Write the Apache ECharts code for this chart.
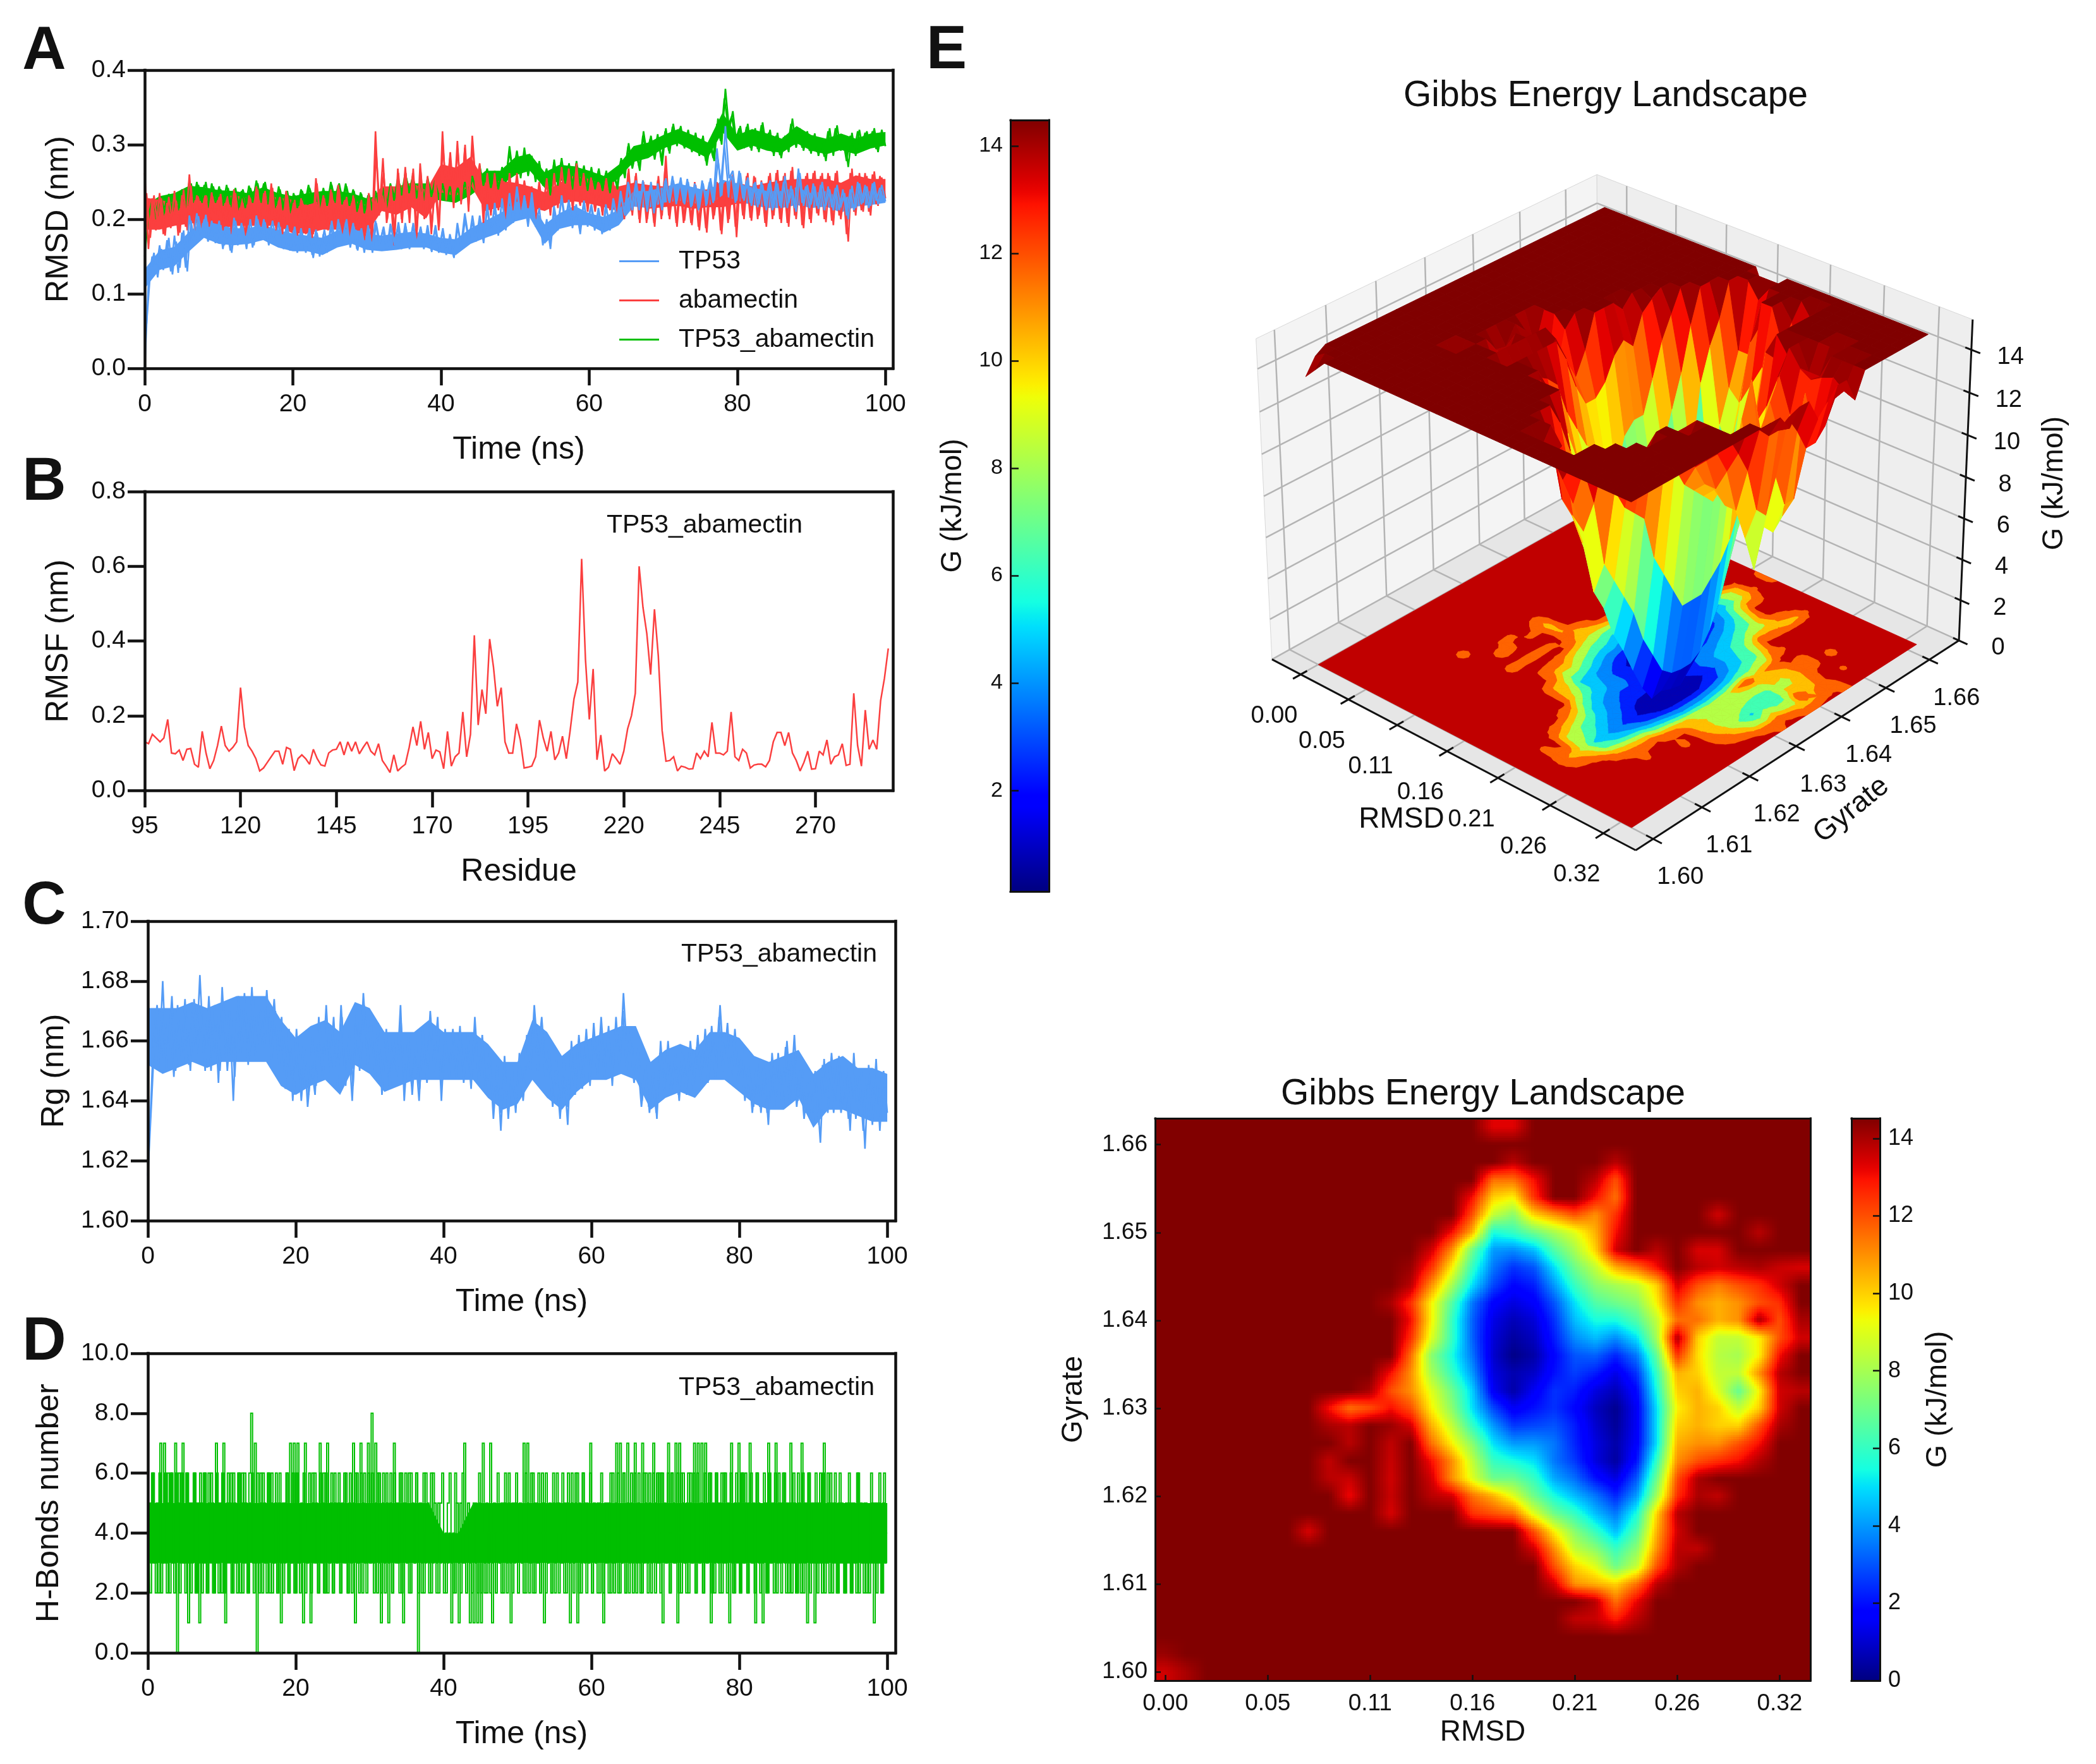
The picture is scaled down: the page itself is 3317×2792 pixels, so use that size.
<!DOCTYPE html>
<html><head><meta charset="utf-8">
<script src="https://cdn.jsdelivr.net/npm/echarts@6/dist/echarts.min.js"></script>
<style>html,body{margin:0;background:#fff}#c{width:3317px;height:2792px}</style></head>
<body><div id="c"></div>
<script>
// ---------- DATA ----------
const rmsdTP53 = [0,115,150,128,165,132,172,130,178,128,182,135,205,172,208,178,200,170,198,168,198,160,190,158,202,165,195,168,192,162,205,172,200,170,192,168,196,165,188,158,185,155,188,160,182,152,186,150,180,155,192,162,200,168,196,170,195,160,185,155,192,160,198,165,186,158,194,170,188,160,195,162,190,168,186,160,192,158,188,155,184,152,180,150,195,165,208,175,196,170,205,172,220,182,215,178,225,190,235,195,240,200,232,195,236,190,215,170,200,160,212,185,232,198,222,192,215,180,225,190,220,190,212,182,216,185,225,195,232,205,248,212,252,218,246,210,250,215,240,212,255,222,252,225,256,220,250,218,245,215,248,220,255,225,280,240,325,255,265,225,262,225,256,218,250,220,246,212,252,215,248,215,258,222,240,210,262,218,246,220,244,214,250,218,240,212,246,216,235,200,245,215,248,222,244,218,250,220,246,224];
const rmsdTP53B = [60,128,155,122,160,138,175,126,170,135,185,130,198,168,204,175,206,172,192,172,192,165,188,155,198,170,190,160,200,165,200,175,196,165,198,172,190,160,192,162,190,158,182,155,188,148,182,156,186,160,198,165,195,172,200,162,190,158,188,160,188,155,195,168,190,160,190,165,196,162,190,160,195,165,190,162,186,156,192,160,188,155,178,148,190,160,200,170,205,172,200,168,215,178,222,185,228,185,230,200,244,205,228,190,230,195,205,165,195,165,218,190,228,195,226,188,220,185,222,195,218,185,215,180,220,190,228,200,238,208,250,215,246,212,252,220,244,208,248,218,252,225,258,220,250,222,254,216,248,212,252,225,250,222,295,245,300,245,258,222,265,228,252,222,248,216,250,218,248,212,252,218,250,215,245,215,268,222,244,215,248,218,246,212,244,216,242,212,240,205,240,212,250,220,246,215,248,225,242,222];
const rmsdAbamectin = [262,160,228,185,235,180,222,188,238,178,232,190,260,195,232,188,228,200,236,195,230,185,225,190,240,192,215,178,232,200,244,195,235,188,248,200,225,180,238,195,222,178,228,185,215,175,255,205,232,190,240,195,246,180,225,175,232,190,222,172,228,170,318,205,282,195,235,165,268,200,270,205,262,170,275,210,258,180,246,185,318,225,282,215,305,220,296,210,312,245,275,195,258,205,262,215,250,200,262,212,258,208,248,215,240,200,246,212,255,205,262,215,270,222,262,212,275,218,258,210,252,210,248,205,255,212,246,198,238,205,268,205,262,195,250,200,240,190,258,205,285,200,246,190,252,198,240,192,246,185,238,182,252,205,248,180,250,200,260,176,258,200,262,198,256,205,248,190,262,205,266,195,262,190,270,200,258,188,262,195,265,205,262,196,258,192,265,200,240,170,268,205,262,210,258,205,264,218,256,228];
const rmsdAbamectinB = [235,175,232,190,228,178,230,195,225,182,240,185,245,185,228,195,232,190,226,198,234,190,222,180,235,195,222,182,228,195,240,190,238,195,242,185,230,190,232,188,226,182,225,180,220,180,248,198,228,185,236,190,240,185,230,180,228,185,226,178,235,180,290,210,262,200,245,180,262,195,262,195,268,185,265,200,252,190,255,190,300,230,290,225,295,225,300,220,300,235,268,205,262,210,258,212,255,208,258,215,262,212,252,218,244,205,250,215,250,210,258,220,265,225,268,218,268,220,262,215,256,215,250,210,252,215,250,205,242,200,262,210,258,200,252,195,244,195,252,200,268,205,250,195,248,195,244,195,250,190,242,188,248,200,250,185,248,195,256,190,255,205,258,202,258,200,252,195,258,200,262,200,258,195,265,205,260,192,258,200,262,208,258,200,262,198,262,205,246,180,262,210,258,212,262,210,260,220,258,232];
const rmsdComplex = [150,205,225,200,232,205,230,208,235,212,240,215,252,222,250,225,246,215,248,222,244,218,246,220,240,212,238,215,245,222,252,226,248,220,240,215,244,212,236,208,235,215,240,220,246,222,238,212,242,218,250,225,246,220,248,218,240,210,236,208,232,212,238,218,240,215,248,225,256,232,262,235,258,228,250,225,256,230,252,226,248,225,244,222,240,228,250,232,258,238,272,245,268,242,262,240,270,250,298,258,290,255,296,258,285,250,278,245,262,232,280,245,282,248,275,240,278,245,272,238,270,240,268,238,265,235,262,240,282,255,302,268,292,265,318,285,312,280,310,272,322,288,328,298,325,295,320,290,316,285,312,272,305,278,335,300,375,320,345,300,325,295,328,292,322,290,330,296,320,285,316,282,312,290,335,296,322,292,318,288,315,285,308,278,322,285,326,292,312,270,316,285,320,292,318,296,322,290,320,298];
const rmsdComplexB = [190,210,228,204,228,208,234,210,232,215,238,218,248,226,246,222,250,220,244,226,240,222,242,216,242,216,240,220,242,226,248,222,250,224,236,218,240,216,238,212,232,218,238,222,242,226,240,216,238,222,246,222,248,224,244,222,238,214,234,212,234,216,235,222,242,220,245,228,252,236,258,238,255,232,252,228,252,234,248,230,245,228,242,226,242,232,248,236,255,242,268,248,265,246,265,244,266,254,290,262,292,260,288,262,282,255,275,250,268,240,276,250,278,252,272,245,275,248,268,242,266,244,265,242,262,240,265,244,278,260,298,272,295,270,312,288,308,285,314,278,318,292,324,302,322,298,316,294,312,290,308,278,302,282,328,305,362,325,338,305,322,298,324,296,318,294,326,300,316,290,312,286,310,294,328,300,318,296,314,292,312,290,304,284,318,290,322,296,308,278,312,290,318,296,316,300,318,294,316,302];
// solid core of each noisy trace, one value every 2 ns
const tp53CoreHi = [130,155,160,180,195,190,185,185,190,182,178,175,172,182,185,178,175,178,180,178,172,170,185,195,205,220,222,190,205,215,205,200,210,235,235,240,245,240,235,250,245,240,235,235,240,232,235,225,230,235,235];
const tp53CoreLo = [110,135,140,160,178,170,168,170,175,165,160,160,155,165,170,162,160,162,165,165,158,155,170,178,185,200,205,170,190,195,195,185,195,220,218,225,228,225,220,235,228,222,218,218,222,218,220,212,220,222,225];
const abaCoreHi = [225,222,218,225,228,226,228,225,228,225,222,215,222,222,222,215,240,240,245,235,270,265,280,245,248,245,240,232,245,255,250,242,240,245,242,240,240,235,236,238,245,240,245,248,250,250,250,245,255,250,250];
const abaCoreLo = [190,190,195,198,200,190,195,195,195,195,185,185,190,190,190,185,215,210,220,205,240,235,250,215,220,215,220,215,225,228,225,220,215,225,218,220,222,218,220,220,225,225,228,230,232,232,232,228,238,235,235];
const cplxCoreHi = [215,228,232,242,240,236,235,232,240,232,228,232,235,235,232,225,230,235,245,245,240,235,245,262,262,280,285,260,270,268,262,255,270,295,300,310,318,310,300,340,310,318,312,305,322,310,305,312,305,312,314];
const cplxCoreLo = [205,212,218,228,225,222,222,220,225,218,215,220,222,222,218,215,218,222,232,232,228,225,235,250,248,262,268,245,255,252,248,242,258,280,285,298,305,295,285,320,295,302,295,292,305,295,290,296,290,298,302];
const rmsfValues = [.13,.125,.15,.14,.13,.14,.19,.10,.098,.108,.08,.11,.112,.07,.062,.158,.10,.058,.08,.12,.172,.12,.105,.115,.13,.275,.17,.12,.105,.085,.052,.06,.075,.09,.105,.105,.07,.115,.11,.053,.085,.095,.085,.07,.11,.085,.068,.065,.1,.108,.11,.13,.095,.13,.105,.13,.098,.115,.13,.105,.095,.125,.08,.065,.048,.095,.052,.062,.07,.115,.17,.12,.185,.11,.155,.085,.108,.103,.058,.158,.065,.09,.1,.21,.09,.15,.415,.175,.27,.205,.405,.33,.225,.275,.13,.1,.1,.178,.135,.06,.062,.065,.09,.188,.14,.105,.158,.082,.1,.145,.085,.16,.245,.29,.62,.35,.19,.325,.082,.148,.052,.062,.098,.085,.07,.105,.165,.2,.26,.6,.49,.42,.31,.485,.36,.16,.078,.08,.09,.052,.065,.062,.057,.058,.1,.085,.105,.09,.182,.1,.1,.095,.105,.21,.09,.08,.11,.1,.06,.068,.07,.07,.063,.08,.13,.155,.155,.12,.155,.1,.08,.052,.075,.105,.057,.058,.105,.095,.135,.07,.09,.095,.125,.067,.07,.26,.12,.065,.215,.11,.135,.11,.24,.3,.38];
const rgValues = [1615,1640,1666,1652,1680,1650,1668,1648,1672,1655,1674,1652,1670,1654,1682,1656,1668,1650,1672,1646,1678,1654,1670,1640,1672,1656,1676,1652,1678,1654,1672,1656,1677,1658,1674,1655,1668,1644,1664,1640,1664,1645,1660,1638,1652,1642,1668,1648,1672,1650,1668,1645,1672,1650,1660,1640,1666,1650,1676,1655,1668,1652,1666,1642,1660,1645,1662,1648,1672,1640,1660,1645,1656,1640,1664,1648,1670,1652,1668,1640,1664,1650,1660,1648,1665,1646,1660,1644,1668,1648,1662,1644,1656,1634,1652,1630,1655,1634,1652,1636,1656,1640,1655,1650,1672,1655,1668,1650,1658,1640,1654,1636,1650,1632,1660,1642,1662,1646,1664,1645,1666,1648,1668,1650,1665,1645,1668,1650,1676,1655,1664,1648,1658,1640,1652,1636,1650,1634,1660,1642,1660,1644,1656,1640,1658,1642,1660,1645,1662,1646,1664,1648,1662,1650,1672,1652,1666,1646,1664,1648,1658,1642,1650,1638,1654,1636,1650,1632,1656,1640,1652,1638,1660,1642,1662,1640,1652,1636,1648,1632,1645,1626,1654,1636,1656,1640,1655,1638,1652,1630,1656,1636,1650,1624,1652,1632,1654,1630,1650,1636];
const rgValuesB = [1630,1660,1672,1650,1670,1655,1675,1650,1664,1652,1668,1650,1674,1658,1668,1650,1675,1652,1670,1650,1672,1650,1668,1648,1675,1658,1670,1655,1674,1656,1670,1658,1672,1654,1670,1652,1665,1648,1660,1642,1660,1640,1656,1642,1662,1645,1665,1650,1666,1648,1664,1650,1668,1645,1662,1645,1670,1652,1672,1652,1665,1648,1660,1646,1664,1644,1658,1650,1666,1645,1662,1642,1660,1644,1660,1646,1666,1650,1662,1645,1660,1648,1664,1650,1660,1648,1662,1648,1664,1646,1658,1642,1652,1638,1650,1636,1650,1638,1648,1640,1652,1642,1662,1652,1668,1650,1664,1648,1654,1638,1650,1634,1654,1638,1656,1644,1660,1644,1660,1648,1662,1650,1664,1648,1662,1648,1664,1652,1670,1650,1660,1646,1654,1638,1650,1638,1648,1636,1656,1644,1656,1642,1654,1642,1656,1644,1656,1644,1658,1648,1660,1646,1665,1648,1668,1650,1662,1648,1660,1646,1654,1640,1652,1636,1650,1638,1652,1636,1652,1638,1656,1640,1658,1640,1656,1638,1650,1634,1646,1636,1650,1632,1652,1638,1652,1636,1652,1636,1648,1634,1652,1634,1648,1630,1650,1634,1650,1634,1648,1636];
const rgCoreHi = [1668,1668,1668,1670,1668,1670,1672,1672,1672,1664,1658,1662,1664,1660,1670,1668,1660,1660,1660,1664,1660,1660,1660,1656,1650,1650,1664,1660,1652,1656,1658,1660,1662,1662,1650,1654,1656,1654,1660,1660,1658,1652,1650,1652,1654,1646,1650,1652,1648,1648,1646];
const rgCoreLo = [1655,1652,1654,1656,1654,1656,1656,1656,1656,1648,1645,1648,1650,1645,1655,1652,1646,1648,1650,1650,1650,1650,1650,1644,1640,1642,1650,1644,1640,1646,1650,1650,1652,1650,1640,1644,1646,1644,1650,1650,1646,1642,1640,1640,1644,1634,1640,1640,1638,1636,1636];
const hbondValues = [1,5,3,6,3,5,2,7,3,7,3,6,2,6,3,7,0,6,3,7,3,6,1,5,3,6,2,5,1,5,3,6,2,6,3,5,2,7,3,5,2,7,1,5,3,6,2,5,3,6,2,6,3,5,2,6,8,3,7,0,3,6,2,5,3,6,2,6,3,5,2,5,1,5,3,6,2,7,3,7,2,7,3,5,1,7,3,4,1,6,3,5,2,7,3,6,2,7,3,5,2,6,3,5,2,5,3,6,2,5,3,7,1,6,3,7,2,6,3,7,3,8,3,7,2,6,1,5,3,6,1,5,2,7,3,5,2,6,1,5,3,6,2,5,3,6,0,5,2,6,3,4,2,6,3,5,2,5,3,4,2,4,3,4,1,4,2,5,1,5,3,7,2,5,1,4,1,5,1,6,1,7,2,5,3,7,1,5,2,6,3,5,2,5,3,6,1,5,3,5,2,5,3,7,2,7,3,6,2,5,3,6,2,5,1,6,3,5,2,5,3,5,2,4,3,5,2,5,1,5,3,6,1,5,2,6,3,5,3,7,2,5,3,5,2,4,1,5,3,5,2,6,3,7,2,7,3,6,2,7,3,6,2,7,3,6,2,7,3,6,2,5,3,7,2,6,3,6,1,5,3,7,2,6,3,7,1,7,2,6,3,5,2,6,3,7,2,7,3,7,2,7,3,6,1,5,2,6,3,5,2,6,3,5,1,7,2,5,3,7,2,6,3,5,2,7,3,5,1,6,3,4,1,5,2,7,3,5,2,7,3,5,2,6,3,5,2,7,3,5,2,6,3,7,2,5,1,6,3,5,1,5,3,6,2,7,3,6,2,5,3,6,2,5,3,4,2,5,3,5,2,5,3,6,2,5,3,5,2,4,3,5,1,5,3,6,2,5,3,4];
const hbondValuesB = [5,2,6,3,2,5,6,2,3,6,2,5,6,3,2,6,5,2,6,3,2,6,3,2,5,6,2,3,6,2,6,3,2,5,6,2,3,6,2,5,6,2,3,6,5,2,6,3,2,6,5,2,6,3,2,5,6,2,3,6,2,5,6,3,2,6,5,2,3,6,2,6,3,2,5,6,2,3,6,2,6,3,2,5,6,2,3,6,2,5,6,3,2,6,5,2,6,2,3,6,2,5,3,6,2,5,6,3,2,6,2,5,6,3,2,6,5,3,2,6,3,6,2,5,6,3,2,6,2,5,3,6,2,6,5,3,6,2,5,6,3,2,6,5,3,6,2,5,3,2,6,5,3,2,6,5,3,2,5,6,3,2,5,6,3,2,6,5,3,2,6,3,2,5,3,2,5,3,2,5,2,4,3,2,4,2,3,4,2,4,3,2,5,6,2,5,3,2,5,6,2,5,3,2,6,5,2,3,6,2,5,3,2,6,5,2,3,5,2,6,2,6,5,3,6,2,5,6,3,6,2,5,6,2,3,6,5,2,3,6,2,5,3,2,5,6,2,3,5,2,6,3,2,5,6,2,3,6,2,5,2,5,3,6,2,5,3,2,6,5,3,6,2,6,5,3,6,2,6,5,3,6,2,6,5,3,6,2,6,5,3,2,6,5,3,6,2,6,3,5,2,6,3,5,6,2,3,6,5,2,6,3,6,2,5,6,3,2,6,5,2,6,3,6,2,5,6,3,2,6,5,2,3,6,5,2,6,3,5,6,2,6,3,5,6,2,3,5,2,6,3,2,5,2,6,3,5,6,2,5,3,6,2,5,3,6,2,3,5,6,2,5,3,2,6,5,3,2,5,6,2,5,3,2,6,5,3,2,5,3,2,6,3,5,2,5,3,2,6,3];
const hbondCoreHi = [5,5,5,5,5,5,5,5,5,5,5,5,5,5,5,5,5,5,5,5,4,4,5,5,5,5,5,5,5,5,5,5,5,5,5,5,5,5,5,5,5,5,5,5,5,5,5,5,5,5,5];
const hbondCoreLo = [3,3,3,3,3,3,3,3,3,3,3,3,3,3,3,3,3,3,3,3,3,3,3,3,3,3,3,3,3,3,3,3,3,3,3,3,3,3,3,3,3,3,3,3,3,3,3,3,3,3,3];
const _ = 14.5;
// Gibbs free energy, 32 rows (bottom = lowest gyrate) x 32 columns (left = lowest RMSD)
const gibbs = [
[13.5,14,_,_,_,_,_,_,_,_,_,_,_,_,_,_,_,_,_,_,_,_,_,_,_,_,_,_,_,_,_,_],
[14.2,_,_,_,_,_,_,_,_,_,_,_,_,_,_,_,_,_,_,_,_,_,_,_,_,_,_,_,_,_,_,_],
[_,_,_,_,_,_,_,_,_,_,_,_,_,_,_,_,_,_,_,_,_,_,_,_,_,_,_,_,_,_,_,_],
[_,_,_,_,_,_,_,_,_,_,_,_,_,_,_,_,_,_,_,_,13.7,13.6,12.8,13.8,_,_,_,_,_,_,_,_],
[_,_,_,_,_,_,_,_,_,_,_,_,_,_,_,_,_,_,_,_,_,13.8,11.5,13.2,_,_,_,_,_,_,_,_],
[_,_,_,_,_,_,_,_,_,_,_,_,_,_,_,_,_,_,_,13.5,11,10.5,10,11.5,13.8,_,_,_,_,_,_,_],
[_,_,_,_,_,_,_,_,_,_,_,_,_,_,_,_,_,_,_,12,10,9,7,8.5,12,13.9,_,_,_,_,_,_],
[_,_,_,_,_,_,_,_,_,_,_,_,_,_,_,_,_,_,13.5,11,8.5,7.5,6,7.5,11,13.8,13.7,_,_,_,_,_],
[_,_,_,_,_,_,_,13.4,_,_,_,_,_,_,_,_,_,_,12,9.5,7.5,6,4.5,6.5,10.5,13.5,_,_,_,_,_,_],
[_,_,_,_,_,_,_,_,_,_,_,13.4,_,_,_,12.5,12,11.5,9,7,6,4.5,3.5,5.5,10,13.8,_,_,_,_,_,_],
[_,_,_,_,_,_,_,_,_,13.1,_,13.6,_,13.8,13.5,11.5,10.5,9,7,5.5,4.5,3.5,2.3,4,8,12.5,14,13.7,_,_,_,_],
[_,_,_,_,_,_,_,_,13.8,13.6,_,13.5,_,13.5,11,9,7,7,6,4.2,3.4,2,1.2,3,7,12,14,_,_,_,_,_],
[_,_,_,_,_,_,_,_,13.7,_,_,13.6,_,13,11,8.5,6,5.5,5,3.5,2.6,1.2,.4,2,6,11,12,12.5,13,13.9,_,_],
[_,_,_,_,_,_,_,_,_,13.8,_,13.7,_,11.5,9.5,7.5,5,4,4,3.5,2.3,1.2,.5,1.6,5,10.5,11,11,12,13,_,_],
[_,_,_,_,_,_,_,_,14,13.8,_,14.2,13.5,10.5,8.5,6,4,2.6,2.8,3,2.2,1,.3,1.5,5,10,10.5,10,10,12,14,_],
[_,_,_,_,_,_,_,_,13,11.5,12,13,12,9.5,7.5,5,2.8,1.5,2,2.5,1.8,.8,.2,1.5,5,9.5,10.5,10,8.5,10,13.5,_],
[_,_,_,_,_,_,_,_,_,_,14,12,11,9,7,4.8,1.5,.5,1.5,2.5,2.2,1.2,.7,1.8,5.5,10,10.5,9,6.8,9.5,13.5,13.8],
[_,_,_,_,_,_,_,_,_,_,_,13,11,8,6,4,1.2,.6,.9,2,2.7,2.2,1.3,2.5,6,10.5,10,8.5,8.5,11,13.8,_],
[_,_,_,_,_,_,_,_,_,_,_,_,11.5,7.5,5.5,3.5,1,.1,.5,1.8,3,3.2,2.3,3.5,6.8,12.5,9.8,8.3,8,9.5,13,_],
[_,_,_,_,_,_,_,_,_,_,_,_,12.5,9,6,3.2,1.1,.4,.8,2.2,3.8,4.5,3.8,5,8,14,10,8.5,8.5,9.5,12,13.5],
[_,_,_,_,_,_,_,_,_,_,_,_,13,9.5,6,3.2,1.3,.7,1.1,2.5,4.5,5.5,5.5,6.5,8.5,11.5,11.5,10.5,11,14,12,14],
[_,_,_,_,_,_,_,_,_,_,_,14,12.5,9.5,6.5,3.5,1.7,1.2,1.6,3,5,6.5,7,7.5,9.5,12.5,11,10.5,11,12,12.5,_],
[_,_,_,_,_,_,_,_,_,_,_,_,13.8,11,8,5,2.8,1.8,2.2,4,6,7.5,8,8.5,10,13.5,12,11.3,12,12.5,13.5,_],
[_,_,_,_,_,_,_,_,_,_,_,_,14.2,12.5,9.5,6,3.5,2.5,3,5,7,8.5,10.5,11.5,13,_,13.8,13.5,13.8,14,13.6,13.4],
[_,_,_,_,_,_,_,_,_,_,_,_,_,13.5,11,7,4,3.8,4.5,6.5,8,10,13.5,_,13.8,_,13.4,13.4,_,_,_,_],
[_,_,_,_,_,_,_,_,_,_,_,_,_,_,13,10.5,5.5,6,7,8,9,10.5,13,_,_,_,_,_,_,13.8,_,_],
[_,_,_,_,_,_,_,_,_,_,_,_,_,_,_,12,8.5,7.5,10,11,12,11,12.5,_,_,_,_,13.5,_,_,_,_],
[_,_,_,_,_,_,_,_,_,_,_,_,_,_,_,13,10,9.5,12.5,_,_,13,11.5,_,_,_,_,_,_,_,_,_],
[_,_,_,_,_,_,_,_,_,_,_,_,_,_,_,_,11.5,11.5,13,_,_,13.8,12,_,_,_,_,_,_,_,_,_],
[_,_,_,_,_,_,_,_,_,_,_,_,_,_,_,_,_,13.8,_,_,_,_,13.8,_,_,_,_,_,_,_,_,_],
[_,_,_,_,_,_,_,_,_,_,_,_,_,_,_,_,_,_,_,_,_,_,_,_,_,_,_,_,_,_,_,_],
[_,_,_,_,_,_,_,_,_,_,_,_,_,_,_,_,13.3,13.3,_,_,_,_,_,_,_,_,_,_,_,_,_,_]
];
const timeTicks = [0,20,40,60,80,100];
const residueTicks = [95,120,145,170,195,220,245,270];
const rmsdTickIdx = [0,5,10,15,20,25,30];
const rmsdTickLabels = ['0.00','0.05','0.11','0.16','0.21','0.26','0.32'];
const gyrTickIdx = [0,5,10,15,20,25,30];
const gyrTickLabels = ['1.60','1.61','1.62','1.63','1.64','1.65','1.66'];
const energyTicks = [2,4,6,8,10,12,14];
const energyTicks0 = [0,2,4,6,8,10,12,14];
const contourLevels = [0,1.8,3.6,5.4,7.2,9,10.8,12.4,14];
const contourColors = ['#0000b4','#0020ff','#0088ff','#00c8ff','#40ffb4','#b4ff45','#ffc000','#ff6400'];

// ---------- HELPERS ----------
const FONT='Liberation Sans', INK='#111';
function jet(t){t=Math.max(0,Math.min(1,t));
 const r=t<.35?0:t<.66?(t-.35)/.31:t<.89?1:1-.5*(t-.89)/.11;
 const g=t<.125?0:t<.375?(t-.125)/.25:t<.64?1:t<.91?1-(t-.64)/.27:0;
 const b=t<.11?.5+.5*t/.11:t<.34?1:t<.65?1-(t-.34)/.31:0;
 return 'rgb('+Math.round(r*255)+','+Math.round(g*255)+','+Math.round(b*255)+')';}
function jetStops(){const a=[];for(let i=0;i<=64;i++)a.push({offset:i/64,color:jet(i/64)});return a;}
const grids=[],xAxes=[],yAxes=[];
function panel(g,o){
 const idx=grids.length, lw=o.lw||4.5;
 grids.push({left:g.l,top:g.t,width:g.r-g.l,height:g.b-g.t});
 const line={show:true,onZero:false,lineStyle:{color:INK,width:lw,cap:'square'}};
 const labelStyle={color:INK,fontFamily:FONT};
 const base={gridIndex:idx,type:'value',splitLine:{show:false},z:10,axisLine:line};
 const tick=o.tick||{len:27,w:4.5,inside:false};
 xAxes.push(Object.assign({},base,{position:'bottom',min:o.x[0],max:o.x[1],
  axisTick:o.xt?{show:true,customValues:o.xt,length:tick.len,inside:tick.inside,lineStyle:{color:INK,width:tick.w}}:{show:false},
  axisLabel:o.xt?Object.assign({show:true,customValues:o.xt,margin:o.xm||38,fontSize:o.fs||39,formatter:o.xf||(v=>String(v)),hideOverlap:false},labelStyle):{show:false},
  name:o.xn||'',nameLocation:'middle',nameGap:o.xg||129,nameTextStyle:{fontSize:o.nfs||50,fontFamily:FONT,color:INK,verticalAlign:'middle'}}));
 xAxes.push(Object.assign({},base,{position:'top',min:o.x[0],max:o.x[1],axisTick:{show:false},axisLabel:{show:false}}));
 yAxes.push(Object.assign({},base,{position:o.yRight?'right':'left',min:o.y[0],max:o.y[1],
  axisTick:{show:true,customValues:o.yt,length:tick.len,inside:tick.inside,lineStyle:{color:INK,width:tick.w}},
  axisLabel:Object.assign({show:true,customValues:o.yt,inside:false,margin:o.ym||30,fontSize:o.fs||39,formatter:o.yf||(v=>String(v)),hideOverlap:false},labelStyle),
  name:o.yn||'',nameLocation:'middle',nameGap:o.yg||136,nameRotate:90,nameTextStyle:{fontSize:o.nfs||50,fontFamily:FONT,color:INK,verticalAlign:'middle'}}));
 yAxes.push(Object.assign({},base,{position:o.yRight?'left':'right',min:o.y[0],max:o.y[1],axisTick:{show:false},axisLabel:{show:false}}));
 return idx*2;
}
const ax=[];
ax[0]=panel({l:229,t:111,r:1413,b:583},{x:[0,101],y:[0,.4],xt:timeTicks,yt:[0,.1,.2,.3,.4],yf:v=>v.toFixed(1),xn:'Time (ns)',yn:'RMSD (nm)'});
ax[1]=panel({l:229,t:778,r:1413,b:1251},{x:[95,290.2],y:[0,.8],xt:residueTicks,yt:[0,.2,.4,.6,.8],yf:v=>v.toFixed(1),xn:'Residue',yn:'RMSF (nm)'});
ax[2]=panel({l:234,t:1458,r:1417,b:1932},{x:[0,101.1],y:[1.6,1.7],xt:timeTicks,yt:[1.6,1.62,1.64,1.66,1.68,1.7],yf:v=>v.toFixed(2),xn:'Time (ns)',yn:'Rg (nm)',yg:148,ym:30});
ax[3]=panel({l:234,t:2142,r:1417,b:2616},{x:[0,101.1],y:[0,10],xt:timeTicks,yt:[0,2,4,6,8,10],yf:v=>v.toFixed(1),xn:'Time (ns)',yn:'H-Bonds number',yg:156,ym:30});
ax[4]=panel({l:1599,t:190,r:1660,b:1411},{lw:3,x:[0,1],y:[.12,14.48],yt:energyTicks,fs:34,ym:12,tick:{len:13,w:2.5,inside:true},yn:'G (kJ/mol)',yg:91,nfs:46});
ax[5]=panel({l:1828,t:1770,r:2865,b:2660},{lw:3,x:[-.5,31.5],y:[-.5,31.5],xt:rmsdTickIdx,yt:gyrTickIdx,fs:37,nfs:46,xm:18,ym:12,
 tick:{len:9,w:2.5,inside:true},xf:v=>rmsdTickLabels[rmsdTickIdx.indexOf(v)],yf:v=>gyrTickLabels[gyrTickIdx.indexOf(v)],xn:'RMSD',xg:82,yn:'Gyrate',yg:129});
ax[6]=panel({l:2930,t:1770,r:2975,b:2660},{lw:3,x:[0,1],y:[0,14.52],yRight:true,yt:energyTicks0,fs:36,ym:13,tick:{len:11,w:2.5,inside:true},yn:'G (kJ/mol)',yg:92,nfs:47});

const lineS=(name,g,data,color,w,step)=>({type:'line',name,xAxisIndex:ax[g],yAxisIndex:ax[g],data,showSymbol:false,symbol:'none',step:step||false,
 lineStyle:{color,width:w,join:'miter',miterLimit:2},itemStyle:{color},silent:true,z:2});
const timed=(arr,k)=>arr.map((v,i)=>[i*100/(arr.length-1),v*k]);
const timedB=(arr,k)=>arr.map((v,i)=>[(i+.5)*100/arr.length,v*k]);
const coreS=(g,hi,lo,color,k,pad)=>({type:'custom',xAxisIndex:ax[g],yAxisIndex:ax[g],silent:true,data:[[0,0]],z:2,clip:true,
 renderItem:(p,api)=>{const pts=[];
  hi.forEach((v,i)=>pts.push(api.coord([i*2,(v+pad)*k])));
  for(let i=lo.length-1;i>=0;i--)pts.push(api.coord([i*2,(lo[i]-pad)*k]));
  return{type:'polygon',shape:{points:pts},style:{fill:color}};}});

const rows=gibbs.length, cols=gibbs[0].length;
function valAt(u,v){u=Math.max(0,Math.min(cols-1,u));v=Math.max(0,Math.min(rows-1,v));
 const i=Math.min(cols-2,Math.floor(u)),j=Math.min(rows-2,Math.floor(v)),a=u-i,b=v-j;
 return (gibbs[j][i]*(1-a)+gibbs[j][i+1]*a)*(1-b)+(gibbs[j+1][i]*(1-a)+gibbs[j+1][i+1]*a)*b;}
const cells=[];gibbs.forEach((r,j)=>r.forEach((v,i)=>cells.push([i,j,v])));
const heatMax=14.52;
function renderHeat(p,api){
 const i=api.value(0),j=api.value(1),N=8;
 const a=api.coord([i-.5,j-.5]),b=api.coord([i+.5,j+.5]);
 const x0=a[0],x1=b[0],y0=a[1],y1=b[1];
 let flat=true;const v0=gibbs[j][i];
 for(let dj=-1;dj<=1;dj++)for(let di=-1;di<=1;di++){const r=gibbs[j+dj];if(r&&r[i+di]!==undefined&&r[i+di]!==v0)flat=false;}
 if(flat)return{type:'rect',shape:{x:Math.round(x0),y:Math.round(y1),width:Math.round(x1)-Math.round(x0),height:Math.round(y0)-Math.round(y1)},style:{fill:jet(v0/heatMax)}};
 const ch=[];
 for(let s=0;s<N;s++)for(let r=0;r<N;r++){
  const px0=Math.round(x0+(x1-x0)*s/N),px1=Math.round(x0+(x1-x0)*(s+1)/N),py0=Math.round(y0+(y1-y0)*r/N),py1=Math.round(y0+(y1-y0)*(r+1)/N);
  const val=valAt(i-.5+(s+.5)/N,j-.5+(r+.5)/N);
  ch.push({type:'rect',shape:{x:px0,y:py1,width:px1-px0,height:py0-py1},style:{fill:jet(val/heatMax)}});}
 return{type:'group',children:ch};
}
const colorbarS=(g,lo,hi)=>({type:'custom',xAxisIndex:ax[g],yAxisIndex:ax[g],silent:true,data:[[0,lo,1,hi]],z:2,
 renderItem:(p,api)=>{const a=api.coord([0,hi]),b=api.coord([1,lo]);
  return{type:'rect',shape:{x:a[0],y:a[1],width:b[0]-a[0],height:b[1]-a[1]},
   style:{fill:new echarts.graphic.LinearGradient(0,1,0,0,jetStops())}};}});

// ---------- 3D perspective of the same matrix ----------
const cam={X:[125,578.6,626.5,-32],Y:[1050,293.5,-331.9,-695.5],W:[1,-.0766,.0782,-.0415]};
const dot=(c,x,y,z)=>c[0]+c[1]*x+c[2]*y+c[3]*z;
function prj(x,y,z){const w=dot(cam.W,x,y,z);return[1900+dot(cam.X,x,y,z)/w/1.1066,260+dot(cam.Y,x,y,z)/w/1.34];}
const ux=i=>.085+i/31*.86, uy=j=>.05+j/31*.88;
const surfTop=15, axisTop=15.4;
const facets=[];
for(let j=0;j<rows-1;j++)for(let i=0;i<cols-1;i++){
 const q=[[i,j],[i+1,j],[i+1,j+1],[i,j+1]];
 const m=q.reduce((s,c)=>s+gibbs[c[1]][c[0]],0)/4;
 const d=q.reduce((s,c)=>s+dot(cam.W,ux(c[0]),uy(c[1]),gibbs[c[1]][c[0]]/surfTop),0)/4;
 facets.push({pts:q.map(c=>prj(ux(c[0]),uy(c[1]),gibbs[c[1]][c[0]]/surfTop)),m,d});}
facets.sort((a,b)=>b.d-a.d);
const floorPolys=[];
function clip(poly,lo,hi){
 const cut=(pl,keep,lev)=>{const o=[];for(let k=0;k<pl.length;k++){const A=pl[k],B=pl[(k+1)%pl.length];
   const ka=keep(A[2]),kb=keep(B[2]);
   if(ka)o.push(A);
   if(ka!==kb){const t=(lev-A[2])/(B[2]-A[2]);o.push([A[0]+t*(B[0]-A[0]),A[1]+t*(B[1]-A[1]),lev]);}}
  return o;};
 let o=cut(poly,v=>v>=lo,lo);if(o.length)o=cut(o,v=>v<=hi,hi);return o;}
const plateColor='#c00000';
floorPolys.push({pts:[prj(ux(0),uy(0),0),prj(ux(31),uy(0),0),prj(ux(31),uy(31),0),prj(ux(0),uy(31),0)],c:plateColor});
for(let j=0;j<rows-1;j++)for(let i=0;i<cols-1;i++){
 if(i<3&&j<3)continue;
 const c=[[i,j,gibbs[j][i]],[i+1,j,gibbs[j][i+1]],[i+1,j+1,gibbs[j+1][i+1]],[i,j+1,gibbs[j+1][i]]];
 if(c.every(p=>p[2]>=14))continue;
 const mid=[i+.5,j+.5,c.reduce((s,p)=>s+p[2],0)/4];
 for(let k=0;k<4;k++){const tri=[c[k],c[(k+1)%4],mid];
  for(let b=0;b<contourColors.length;b++){
   const o=clip(tri,contourLevels[b],contourLevels[b+1]);
   if(o.length>2)floorPolys.push({pts:o.map(p=>prj(ux(p[0]),uy(p[1]),0)),c:contourColors[b]});}}}

function box3d(){
 const ch=[];
 const poly=(pts,fill)=>ch.push({type:'polygon',shape:{points:pts},style:{fill,stroke:'#d8d8d8',lineWidth:1}});
 const ln=(a,b,col,w)=>ch.push({type:'line',shape:{x1:a[0],y1:a[1],x2:b[0],y2:b[1]},style:{stroke:col,lineWidth:w}});
 poly([prj(0,0,0),prj(1,0,0),prj(1,1,0),prj(0,1,0)],'#e6e6e6');
 poly([prj(0,0,0),prj(0,1,0),prj(0,1,1),prj(0,0,1)],'#f4f4f4');
 poly([prj(0,1,0),prj(1,1,0),prj(1,1,1),prj(0,1,1)],'#eeeeee');
 const G='#b4b4b4',gw=2.5;
 energyTicks0.forEach(v=>{const t=v/axisTop;ln(prj(0,0,t),prj(0,1,t),G,gw);ln(prj(0,1,t),prj(1,1,t),G,gw);});
 rmsdTickIdx.forEach(i=>{ln(prj(ux(i),0,0),prj(ux(i),1,0),G,gw);ln(prj(ux(i),1,0),prj(ux(i),1,1),G,gw);});
 gyrTickIdx.forEach(j=>{ln(prj(0,uy(j),0),prj(1,uy(j),0),G,gw);ln(prj(0,uy(j),0),prj(0,uy(j),1),G,gw);});
 ln(prj(0,0,0),prj(1,0,0),INK,3);ln(prj(1,0,0),prj(1,1,0),INK,3);ln(prj(1,1,0),prj(1,1,1),INK,3);
 rmsdTickIdx.forEach(i=>ln(prj(ux(i),.018,0),prj(ux(i),-.022,0),INK,3));
 gyrTickIdx.forEach(j=>ln(prj(.982,uy(j),0),prj(1.022,uy(j),0),INK,3));
 energyTicks0.forEach(v=>{const t=v/axisTop;ln(prj(.985,1,t),prj(1.022,1,t),INK,3);});
 return{type:'group',children:ch};
}
const customNone=(data,render)=>({type:'custom',coordinateSystem:'none',silent:true,progressive:0,data,renderItem:render,z:2});

// ---------- TEXT ----------
const T=(text,x,y,fs,extra)=>({type:'text',silent:true,z:50,rotation:(extra&&extra.rot)||0,x,y,
 style:{text,x:0,y:0,textAlign:'center',textVerticalAlign:'middle',fontFamily:FONT,fontSize:fs,fontWeight:(extra&&extra.bold)?'bold':'normal',fill:INK}});
const texts=[T('A',70,83,96,{bold:1}),T('B',70,765,96,{bold:1}),T('C',70,1436,96,{bold:1}),T('D',70,2126,96,{bold:1}),T('E',1498,82,96,{bold:1}),
 T('TP53_abamectin',1115,832,41),T('TP53_abamectin',1233,1511,41),T('TP53_abamectin',1229,2197,41),
 T('Gibbs Energy Landscape',2541,152,57),T('Gibbs Energy Landscape',2347,1732,57),
 T('RMSD',2218,1297,46),T('Gyrate',2930,1282,46,{rot:.68}),T('G (kJ/mol)',3251,765,46,{rot:Math.PI/2})];
rmsdTickIdx.forEach((i,k)=>{const p=prj(ux(i),0,0);texts.push(T(rmsdTickLabels[k],p[0]-42,p[1]+66,38));});
gyrTickIdx.forEach((j,k)=>{const p=prj(1,uy(j),0);texts.push(T(gyrTickLabels[k],p[0]+43,p[1]+61,38));});
energyTicks0.forEach(v=>{const p=prj(1,1,v/axisTop);texts.push(T(String(v),p[0]+62,p[1]+12,38));});

// ---------- CHART ----------
const BLUE='#559cf6',RED='#fb3f3f',GREEN='#00bf00';
const chart=echarts.init(document.getElementById('c'),null,{renderer:'canvas',width:3317,height:2792});
chart.setOption({animation:false,backgroundColor:'#fff',grid:grids,xAxis:xAxes,yAxis:yAxes,
 textStyle:{fontFamily:FONT},
 legend:{show:true,data:[{name:'TP53',icon:'rect'},{name:'abamectin',icon:'rect'},{name:'TP53_abamectin',icon:'rect'}],orient:'vertical',left:975,top:388,itemWidth:63,itemHeight:3,itemGap:21,selectedMode:false,
  textStyle:{fontFamily:FONT,fontSize:41,color:INK,padding:[0,0,0,26]}},
 graphic:{elements:texts},
 series:[
  coreS(0,cplxCoreHi,cplxCoreLo,GREEN,.001,3),
  lineS('TP53_abamectin',0,timed(rmsdComplex,.001),GREEN,2.6),
  lineS('complex2',0,timedB(rmsdComplexB,.001),GREEN,2.6),
  coreS(0,abaCoreHi,abaCoreLo,RED,.001,4),
  lineS('abamectin',0,timed(rmsdAbamectin,.001),RED,2.6),
  lineS('abamectin2',0,timedB(rmsdAbamectinB,.001),RED,2.6),
  coreS(0,tp53CoreHi,tp53CoreLo,BLUE,.001,3),
  lineS('TP53',0,timed(rmsdTP53,.001),BLUE,2.6),
  lineS('TP53 2',0,timedB(rmsdTP53B,.001),BLUE,2.6),
  lineS('RMSF',1,rmsfValues.map((v,i)=>[95+i,v]),RED,2.5),
  coreS(2,rgCoreHi,rgCoreLo,BLUE,.001,3),
  lineS('Rg',2,timed(rgValues,.001),BLUE,2.6),
  lineS('Rg 2',2,timedB(rgValuesB,.001),BLUE,2.6),
  coreS(3,hbondCoreHi,hbondCoreLo,GREEN,1,0),
  lineS('H-Bonds',3,timed(hbondValues,1),GREEN,2,'middle'),
  lineS('H-Bonds 2',3,timedB(hbondValuesB,1),GREEN,2,'middle'),
  colorbarS(4,.12,14.48),
  {type:'custom',name:'Gibbs',xAxisIndex:ax[5],yAxisIndex:ax[5],data:cells,silent:true,progressive:0,renderItem:renderHeat,z:2},
  colorbarS(6,0,14.52),
  customNone([[0]],box3d),
  customNone(floorPolys.map((p,i)=>[i]),(p)=>{const f=floorPolys[p.dataIndex];return{type:'polygon',shape:{points:f.pts},style:{fill:f.c,stroke:f.c,lineWidth:.8}};}),
  customNone(facets.map((f,i)=>[i]),(p)=>{const f=facets[p.dataIndex],c=jet((f.m-.12)/14.36);return{type:'polygon',shape:{points:f.pts},style:{fill:c,stroke:c,lineWidth:1}};})
 ]});
</script></body></html>
